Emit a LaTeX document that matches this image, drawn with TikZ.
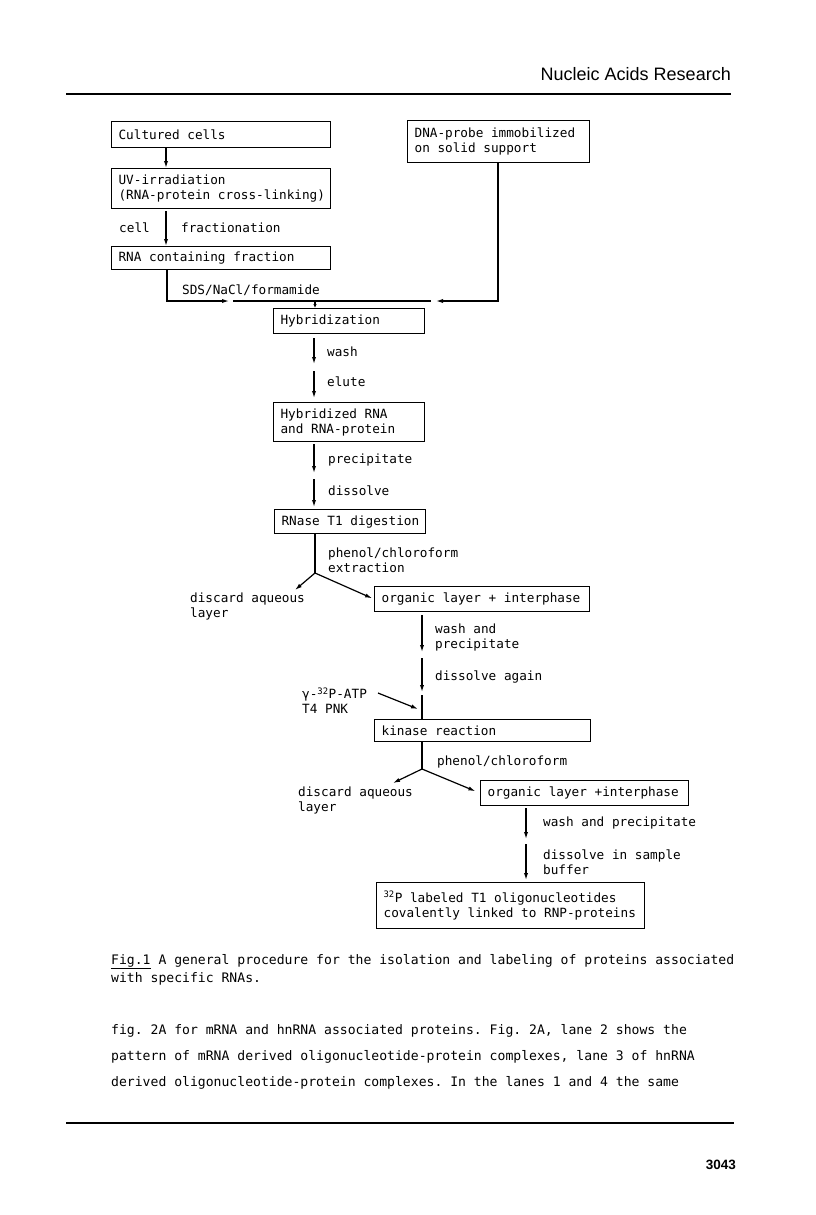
\documentclass[tikz,border=0pt]{standalone}
\usepackage{fontspec}
\setmainfont{DejaVu Sans Mono}
\newfontfamily\headfont{Liberation Sans}
\usetikzlibrary{arrows.meta}
\frenchspacing

\tikzset{
  stage/.style={draw, line width=1.2pt, anchor=north west, align=flush left,
    inner xsep=5pt, inner ysep=0pt, minimum height=25pt,
    execute at begin node={\leftskip=2pt}},
  note/.style={anchor=west, inner sep=0pt, align=left},
  prose/.style={anchor=base west, inner sep=0pt, font=\fontsize{13.1pt}{16pt}\selectfont},
  flow/.style={line width=1.2pt, -{Latex[length=7pt,width=4.2pt]}},
  tinyflow/.style={line width=1.2pt, -{Latex[length=4pt,width=3.5pt]}},
  plain/.style={line width=1.2pt},
}

\begin{document}
\begin{tikzpicture}[x=1pt,y=-1pt,font=\fontsize{12.7pt}{15pt}\selectfont]
  \useasboundingbox (0,0) rectangle (816,1215);

  % running head and rules
  \node[anchor=base east, inner sep=0pt, font=\headfont\fontsize{18pt}{20pt}\selectfont] (head) at (731,81) {Nucleic Acids Research};
  \draw[line width=2.2pt] (66,94) -- (731,94);
  \draw[line width=2.2pt] (66,1123) -- (734,1123);
  \node[anchor=base east, inner sep=0pt, font=\headfont\bfseries\fontsize{13.5pt}{15pt}\selectfont] (folio) at (736,1169) {3043};

  % boxes
  \node[stage, text width=209pt, minimum height=26pt] (cult) at (111,121) {Cultured cells};
  \node[stage, text width=172pt, minimum height=42pt] (probe) at (407,120) {DNA-probe immobilized\\on solid support};
  \node[stage, text width=209pt, minimum height=40pt] (uv) at (111,168) {UV-irradiation\\(RNA-protein cross-linking)};
  \node[stage, text width=209pt, minimum height=23pt] (rnafrac) at (111,246) {RNA containing fraction};
  \node[stage, text width=141pt] (hyb) at (273,308) {Hybridization};
  \node[stage, text width=141pt, minimum height=39pt] (hybrna) at (273,402) {Hybridized RNA\\and RNA-protein};
  \node[stage, text width=141pt, minimum height=24pt] (rnase) at (274,509) {RNase T1 digestion};
  \node[stage, text width=205pt] (org1) at (374,586) {organic layer + interphase};
  \node[stage, text width=206pt, minimum height=22pt] (kin) at (374,719) {kinase reaction};
  \node[stage, text width=198pt] (org2) at (480,780) {organic layer +interphase};
  \node[stage, text width=258pt, minimum height=46pt] (final) at (376,882) {\textsuperscript{32}P labeled T1 oligonucleotides\\covalently linked to RNP-proteins};

  % step labels
  \node[note, anchor=east] (cellL) at (150,228) {cell};
  \node[note] (fracL) at (181,228) {fractionation};
  \node[note] (sdsL) at (182,290) {SDS/NaCl/formamide};
  \node[note] (washL) at (327,352) {wash};
  \node[note] (eluteL) at (327,382) {elute};
  \node[note] (precL) at (328,460) {precipitate};
  \node[note] (dissL) at (328,491) {dissolve};
  \node[note] (phenL) at (328,560.5) {phenol/chloroform\\extraction};
  \node[note] (wasteL) at (190,606.5) {discard aqueous\\layer};
  \node[note] (wash2L) at (435,637.5) {wash and\\precipitate};
  \node[note] (diss2L) at (435,677) {dissolve again};
  \node[note] (atpL) at (302,700.5) {γ-\textsuperscript{32}P-ATP\\T4 PNK};
  \node[note] (phen2L) at (437,762) {phenol/chloroform};
  \node[note] (waste2L) at (298,800) {discard aqueous\\layer};
  \node[note] (wash3L) at (543,823) {wash and precipitate};
  \node[note] (diss3L) at (543,862) {dissolve in sample\\buffer};

  % columns and free ends
  \coordinate (colA) at (166,0);
  \coordinate (colB) at (314,0);
  \coordinate (colC) at (422,0);
  \coordinate (colD) at (526,0);
  \coordinate (lcorner) at (167,301);
  \coordinate (ltip) at (229,301);
  \coordinate (rcorner) at (498,301);
  \coordinate (rtip) at (436,301);
  \coordinate (bar1) at (233,301);
  \coordinate (bar2) at (431,301);
  \coordinate (drop) at (315,301);
  \coordinate (washtip) at (314,364);
  \coordinate (elutetop) at (314,371);
  \coordinate (preciptip) at (314,473);
  \coordinate (dissoltop) at (314,479);
  \coordinate (split1) at (315,573);
  \coordinate (waste1) at (295,590);
  \coordinate (washtip2) at (422,652);
  \coordinate (dissoltop2) at (422,658);
  \coordinate (dissoltip2) at (422,692);
  \coordinate (kintop) at (422,695);
  \coordinate (atpfrom) at (378,693);
  \coordinate (atpto) at (418,709);
  \coordinate (split2) at (422,769);
  \coordinate (waste2) at (393,783);
  \coordinate (washtip3) at (526,839);
  \coordinate (dissoltop3) at (526,844);

  % connectors
  \draw[flow] (cult.south -| colA) -- (uv.north -| colA);
  \draw[flow, shorten <=2pt] (uv.south -| colA) -- (rnafrac.north -| colA);
  \draw[flow] (rnafrac.south -| lcorner) -- (lcorner) -- (ltip);
  \draw[flow] (probe.south -| rcorner) -- (rcorner) -- (rtip);
  \draw[plain] (bar1) -- (bar2);
  \draw[tinyflow] (drop) -- (hyb.north -| drop);
  \draw[flow, shorten <=4pt] (hyb.south -| colB) -- (washtip);
  \draw[flow, shorten >=4pt] (elutetop) -- (hybrna.north -| colB);
  \draw[flow, shorten <=2pt] (hybrna.south -| colB) -- (preciptip);
  \draw[flow, shorten >=2pt] (dissoltop) -- (rnase.north -| colB);
  \draw[plain] (rnase.south -| split1) -- (split1);
  \draw[flow] (split1) -- (waste1);
  \draw[flow, shorten >=2pt] (split1) -- (org1.west);
  \draw[flow, shorten <=3pt] (org1.south -| colC) -- (washtip2);
  \draw[flow] (dissoltop2) -- (dissoltip2);
  \draw[plain] (kintop) -- (kin.north -| colC);
  \draw[flow] (atpfrom) -- (atpto);
  \draw[plain] (kin.south -| split2) -- (split2);
  \draw[flow] (split2) -- (waste2);
  \draw[flow, shorten >=5pt] (split2) -- (org2.west);
  \draw[flow, shorten <=2pt] (org2.south -| colD) -- (washtip3);
  \draw[flow, shorten >=2pt] (dissoltop3) -- (final.north -| colD);

  % caption and running text
  \node[prose] (cap1) at (111,964) {\underline{Fig.1} A general procedure for the isolation and labeling of proteins associated};
  \node[prose] (cap2) at (111,982) {with specific RNAs.};
  \node[prose] (txt1) at (111,1034) {fig. 2A for mRNA and hnRNA associated proteins. Fig. 2A, lane 2 shows the};
  \node[prose] (txt2) at (111,1060) {pattern of mRNA derived oligonucleotide-protein complexes, lane 3 of hnRNA};
  \node[prose] (txt3) at (111,1086) {derived oligonucleotide-protein complexes. In the lanes 1 and 4 the same};
\end{tikzpicture}
\end{document}
